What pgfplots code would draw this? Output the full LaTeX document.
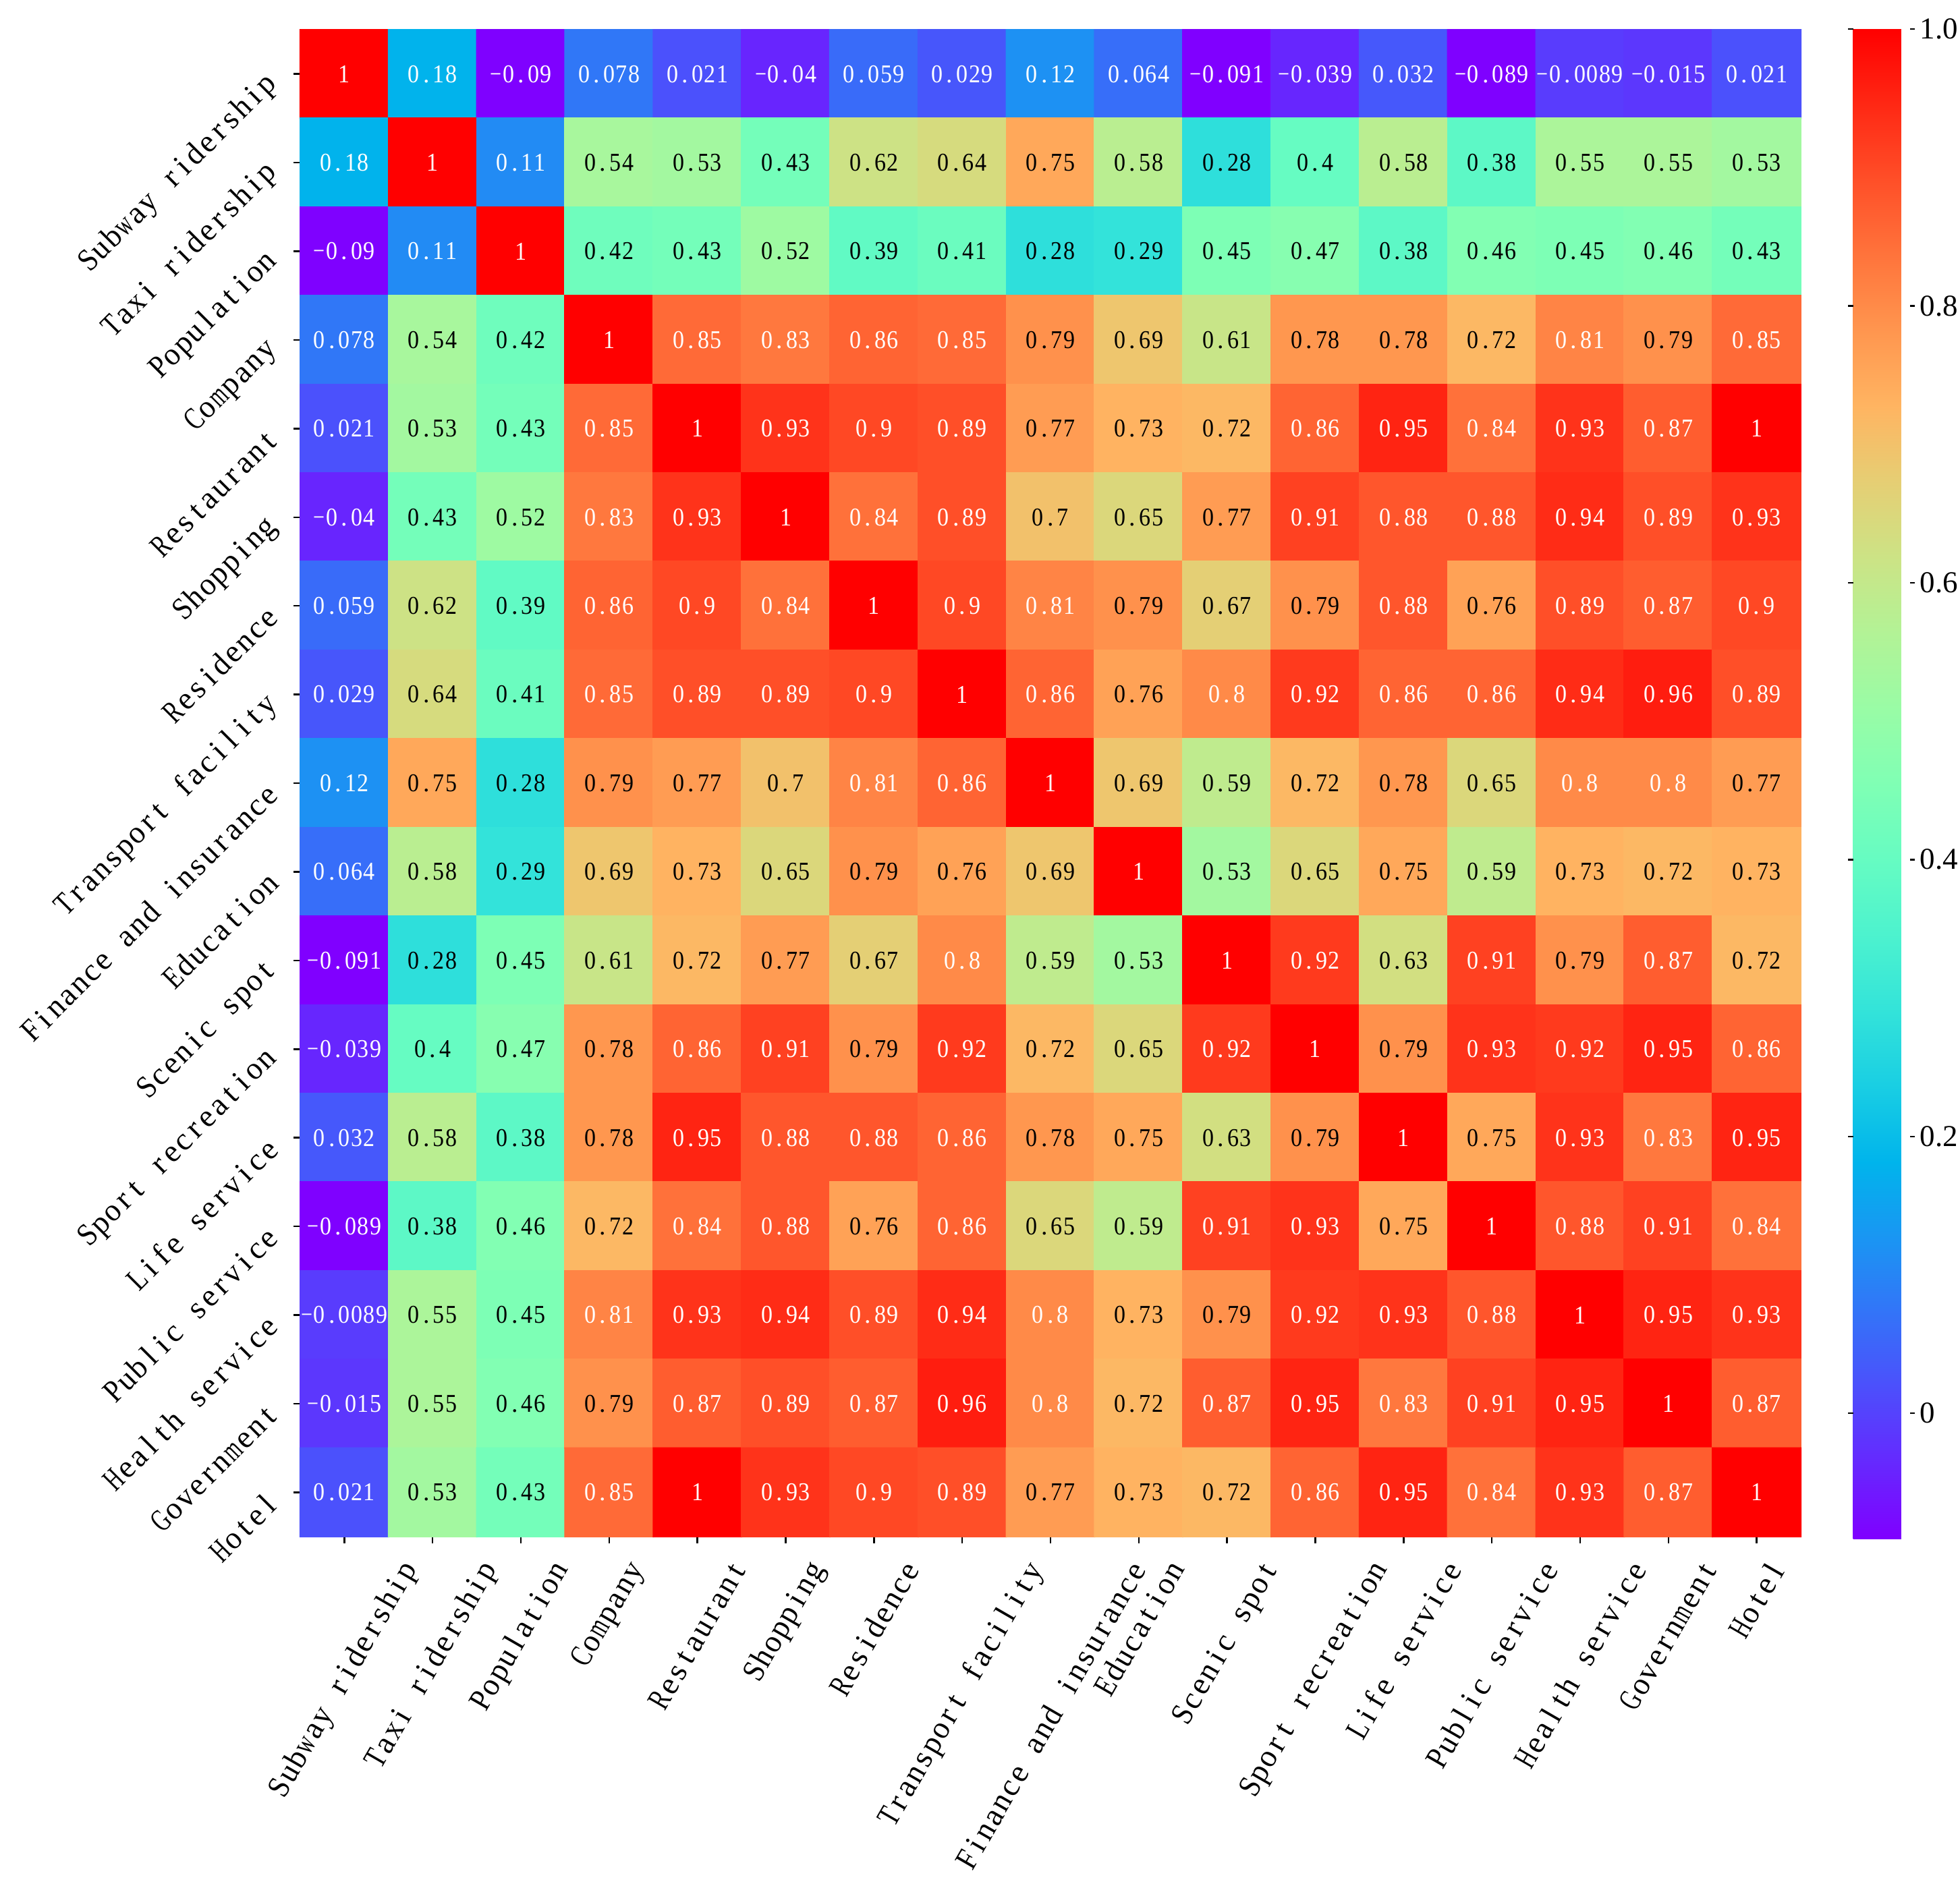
\documentclass[border=0pt]{standalone}
\usepackage{pgfplots}
\pgfplotsset{compat=1.18}
\usepackage{pgfplotstable}
\usepackage{graphicx}
\usepackage{fontspec}
\setmainfont{Liberation Serif}

% half-width (monospaced) setting of Latin text, as in the reference font
\newlength\monow
\newsavebox\monobox
\newcommand\monochar[1]{\sbox\monobox{#1}\ifdim\wd\monobox>0.92\monow\makebox[\monow]{\resizebox{0.92\monow}{\height}{#1}}\else\makebox[\monow]{#1}\fi}
\ExplSyntaxOn
\NewDocumentCommand\mono{m}{\str_map_inline:nn {#1} {\monochar{##1}}}
\ExplSyntaxOff
\newcommand\lab[1]{\fontsize{9.4}{10}\selectfont\setlength\monow{4.95pt}\mono{#1}}
\newcommand\xr[1]{\rotatebox{60}{\lab{#1}}}
\newcommand\yr[1]{\lab{#1}}

\def\fixminus#1{\fixminusA#1\relax}
\def\fixminusA#1#2\relax{\ifx-#1\def\tmpm{−#2}\else\def\tmpm{#1#2}\fi\setlength\monow{3.7pt}\expandafter\mono\expandafter{\tmpm}}

\pgfplotsset{colormap={mplrainbow}{rgb=(0.5,0,1) rgb=(0.4,0.1564,0.9969) rgb=(0.3,0.3090,0.9877) rgb=(0.2,0.4540,0.9724) rgb=(0.1,0.5878,0.9511) rgb=(0,0.7071,0.9239) rgb=(0.1,0.8090,0.8910) rgb=(0.2,0.8910,0.8526) rgb=(0.3,0.9511,0.8090) rgb=(0.4,0.9877,0.7604) rgb=(0.5,1,0.7071) rgb=(0.6,0.9877,0.6494) rgb=(0.7,0.9511,0.5878) rgb=(0.8,0.8910,0.5225) rgb=(0.9,0.8090,0.4540) rgb=(1,0.7071,0.3827) rgb=(1,0.5878,0.3090) rgb=(1,0.4540,0.2334) rgb=(1,0.3090,0.1564) rgb=(1,0.1564,0.0785) rgb=(1,0,0)}}

% correlation matrix, row-major (17 x 17)
\pgfplotstableread[row sep=\\]{
v\\
1\\0.18\\-0.09\\0.078\\0.021\\-0.04\\0.059\\0.029\\0.12\\0.064\\-0.091\\-0.039\\0.032\\-0.089\\-0.0089\\-0.015\\0.021\\
0.18\\1\\0.11\\0.54\\0.53\\0.43\\0.62\\0.64\\0.75\\0.58\\0.28\\0.4\\0.58\\0.38\\0.55\\0.55\\0.53\\
-0.09\\0.11\\1\\0.42\\0.43\\0.52\\0.39\\0.41\\0.28\\0.29\\0.45\\0.47\\0.38\\0.46\\0.45\\0.46\\0.43\\
0.078\\0.54\\0.42\\1\\0.85\\0.83\\0.86\\0.85\\0.79\\0.69\\0.61\\0.78\\0.78\\0.72\\0.81\\0.79\\0.85\\
0.021\\0.53\\0.43\\0.85\\1\\0.93\\0.9\\0.89\\0.77\\0.73\\0.72\\0.86\\0.95\\0.84\\0.93\\0.87\\1\\
-0.04\\0.43\\0.52\\0.83\\0.93\\1\\0.84\\0.89\\0.7\\0.65\\0.77\\0.91\\0.88\\0.88\\0.94\\0.89\\0.93\\
0.059\\0.62\\0.39\\0.86\\0.9\\0.84\\1\\0.9\\0.81\\0.79\\0.67\\0.79\\0.88\\0.76\\0.89\\0.87\\0.9\\
0.029\\0.64\\0.41\\0.85\\0.89\\0.89\\0.9\\1\\0.86\\0.76\\0.8\\0.92\\0.86\\0.86\\0.94\\0.96\\0.89\\
0.12\\0.75\\0.28\\0.79\\0.77\\0.7\\0.81\\0.86\\1\\0.69\\0.59\\0.72\\0.78\\0.65\\0.8\\0.8\\0.77\\
0.064\\0.58\\0.29\\0.69\\0.73\\0.65\\0.79\\0.76\\0.69\\1\\0.53\\0.65\\0.75\\0.59\\0.73\\0.72\\0.73\\
-0.091\\0.28\\0.45\\0.61\\0.72\\0.77\\0.67\\0.8\\0.59\\0.53\\1\\0.92\\0.63\\0.91\\0.79\\0.87\\0.72\\
-0.039\\0.4\\0.47\\0.78\\0.86\\0.91\\0.79\\0.92\\0.72\\0.65\\0.92\\1\\0.79\\0.93\\0.92\\0.95\\0.86\\
0.032\\0.58\\0.38\\0.78\\0.95\\0.88\\0.88\\0.86\\0.78\\0.75\\0.63\\0.79\\1\\0.75\\0.93\\0.83\\0.95\\
-0.089\\0.38\\0.46\\0.72\\0.84\\0.88\\0.76\\0.86\\0.65\\0.59\\0.91\\0.93\\0.75\\1\\0.88\\0.91\\0.84\\
-0.0089\\0.55\\0.45\\0.81\\0.93\\0.94\\0.89\\0.94\\0.8\\0.73\\0.79\\0.92\\0.93\\0.88\\1\\0.95\\0.93\\
-0.015\\0.55\\0.46\\0.79\\0.87\\0.89\\0.87\\0.96\\0.8\\0.72\\0.87\\0.95\\0.83\\0.91\\0.95\\1\\0.87\\
0.021\\0.53\\0.43\\0.85\\1\\0.93\\0.9\\0.89\\0.77\\0.73\\0.72\\0.86\\0.95\\0.84\\0.93\\0.87\\1\\
}\corr
\pgfplotstablecreatecol[expr={int((\pgfplotstablerow+0.5)/17)}]{cy}\corr
\pgfplotstablecreatecol[expr={\pgfplotstablerow-17*int((\pgfplotstablerow+0.5)/17)}]{cx}\corr

\begin{document}
\begin{tikzpicture}
\useasboundingbox (-89pt,-103.6pt) rectangle (492pt,455.6pt);
\begin{axis}[
  at={(0pt,0pt)}, anchor=south west,
  width=444.8pt, height=446.8pt, scale only axis,
  xmin=-0.5, xmax=16.5, ymin=-0.5, ymax=16.5,
  y dir=reverse,
  axis line style={draw=none},
  tick align=outside, tick pos=left,
  major tick length=2pt,
  tick style={black, line width=0.5pt},
  xtick={0,...,16}, ytick={0,...,16},
  yticklabels={{\yr{Subway ridership}},{\yr{Taxi ridership}},{\yr{Population}},{\yr{Company}},{\yr{Restaurant}},{\yr{Shopping}},{\yr{Residence}},{\yr{Transport facility}},{\yr{Finance and insurance}},{\yr{Education}},{\yr{Scenic spot}},{\yr{Sport recreation}},{\yr{Life service}},{\yr{Public service}},{\yr{Health service}},{\yr{Government}},{\yr{Hotel}}},
  xticklabels={{\xr{Subway ridership}},{\xr{Taxi ridership}},{\xr{Population}},{\xr{Company}},{\xr{Restaurant}},{\xr{Shopping}},{\xr{Residence}},{\xr{Transport facility}},{\xr{Finance and insurance}},{\xr{Education}},{\xr{Scenic spot}},{\xr{Sport recreation}},{\xr{Life service}},{\xr{Public service}},{\xr{Health service}},{\xr{Government}},{\xr{Hotel}}},
  yticklabel style={xshift=-4.5pt, rotate=45, anchor=east, inner sep=2pt},
  xticklabel style={anchor=north, inner sep=2pt, yshift=-2pt},
  colormap name=mplrainbow,
  point meta min=-0.091, point meta max=1,
  colorbar,
  colorbar style={
    at={(parent axis.north east)}, anchor=north west,
    xshift=7pt, yshift=0.2pt,
    width=16.8pt, height=447.8pt,
    axis line style={draw=none},
    ytick={0,0.2,0.4,0.6,0.8,1},
    yticklabels={0,0.2,0.4,0.6,0.8,1.0},
    yticklabel style={font=\fontsize{9}{10}\selectfont, inner sep=1.3pt},
    major tick length=1.5pt,
    tick style={black, line width=0.5pt},
    tick align=outside,
  },
  clip=false,
]
\addplot[matrix plot*, mesh/cols=17, point meta=\thisrow{v}]
  table[x=cx, y=cy] {\corr};
\addplot[draw=none, mark=none, forget plot,
  point meta=explicit symbolic,
  visualization depends on={\thisrow{v} \as \val},
  nodes near coords={\pgfmathparse{(\val<0.19)||(\val>0.795)}\ifdim\pgfmathresult pt>0.5pt\color{white}\fi\expandafter\fixminus\expandafter{\pgfplotspointmeta}},
  every node near coord/.append style={anchor=center, font=\fontsize{7.6}{8}\selectfont, inner sep=0pt, text=black}]
  table[x=cx, y=cy, meta=v] {\corr};
\end{axis}
\end{tikzpicture}
\end{document}
